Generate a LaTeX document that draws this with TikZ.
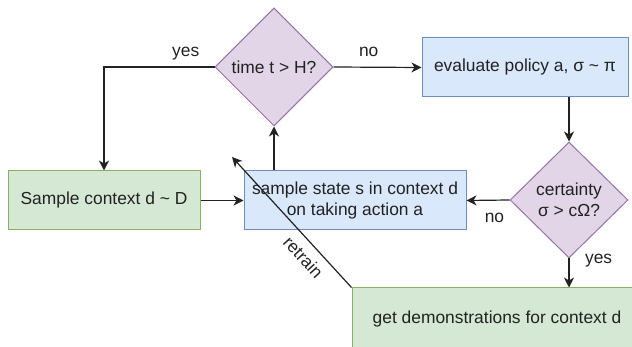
\documentclass[tikz,border=0pt]{standalone}
\usepackage{fontspec}
\setmainfont{Liberation Sans}
\usetikzlibrary{shapes.geometric,arrows.meta}

\definecolor{boxblue}{HTML}{DAE8FC}
\definecolor{lineblue}{HTML}{6C8EBF}
\definecolor{boxgreen}{HTML}{D5E8D4}
\definecolor{linegreen}{HTML}{82B366}
\definecolor{boxpurple}{HTML}{E1D5E7}
\definecolor{linepurple}{HTML}{9673A6}
\definecolor{ink}{HTML}{222222}

\begin{document}
\begin{tikzpicture}[x=0.5pt, y=-0.5pt,
    every node/.style={font=\fontsize{8.7}{10.5}\selectfont, text=ink},
    bluebox/.style={draw=lineblue, fill=boxblue, line width=0.5pt, minimum height=29.5pt, align=center, inner sep=0pt},
    greenbox/.style={draw=linegreen, fill=boxgreen, line width=0.5pt, minimum height=29.5pt, align=center, inner sep=0pt},
    question/.style={diamond, draw=linepurple, fill=boxpurple, line width=0.5pt, minimum width=59pt, minimum height=59pt, align=center, inner sep=0pt},
    flow/.style={-{Stealth[length=5pt, width=5pt, inset=1.5pt]}, draw=ink, line width=0.6pt},
    answer/.style={inner sep=2pt}]
    \path[use as bounding box, clip] (0,0) rectangle (632,347);

    \node[question] (time) at (274,67) {time t > H?};
    \node[bluebox, minimum width=103pt] (eval) at (525,67.5) {evaluate policy a, σ \textasciitilde{} π};
    \node[question, minimum height=58pt] (cert) at (569,200) {certainty\\σ > cΩ?};
    \node[greenbox, minimum width=96pt] (ctx) at (104,200.5) {Sample context d \textasciitilde{} D};
    \node[bluebox, minimum width=111pt] (state) at (355,200.5) {sample state s in context d\\on taking action a};
    \node[greenbox, minimum width=145pt, minimum height=31pt] (demo) at (497,319) {get demonstrations for context d};
    \coordinate (retrained) at (232,157);

    \draw[flow] (time.west) -| node[answer, above=1pt, pos=0.13] {yes} (ctx.north);
    \draw[flow] (time.east) -- node[answer, above=2.75pt, pos=0.4] {no} (eval.west);
    \draw[flow] (eval.south -| cert.north) -- (cert.north);
    \draw[flow] (cert.west) -- node[answer, below=4.25pt, pos=0.35] {no} (state.east);
    \draw[flow] (cert.south) -- node[answer, right=5.75pt, pos=0.07] {yes} (demo.north -| cert.south);
    \draw[flow] (ctx.east) -- (state.west);
    \draw[flow] (state.north -| time.south) -- (time.south);
    \draw[flow] (demo.north west) -- node[answer, sloped, below=2pt, pos=0.31] {retrain} (retrained);
\end{tikzpicture}
\end{document}
